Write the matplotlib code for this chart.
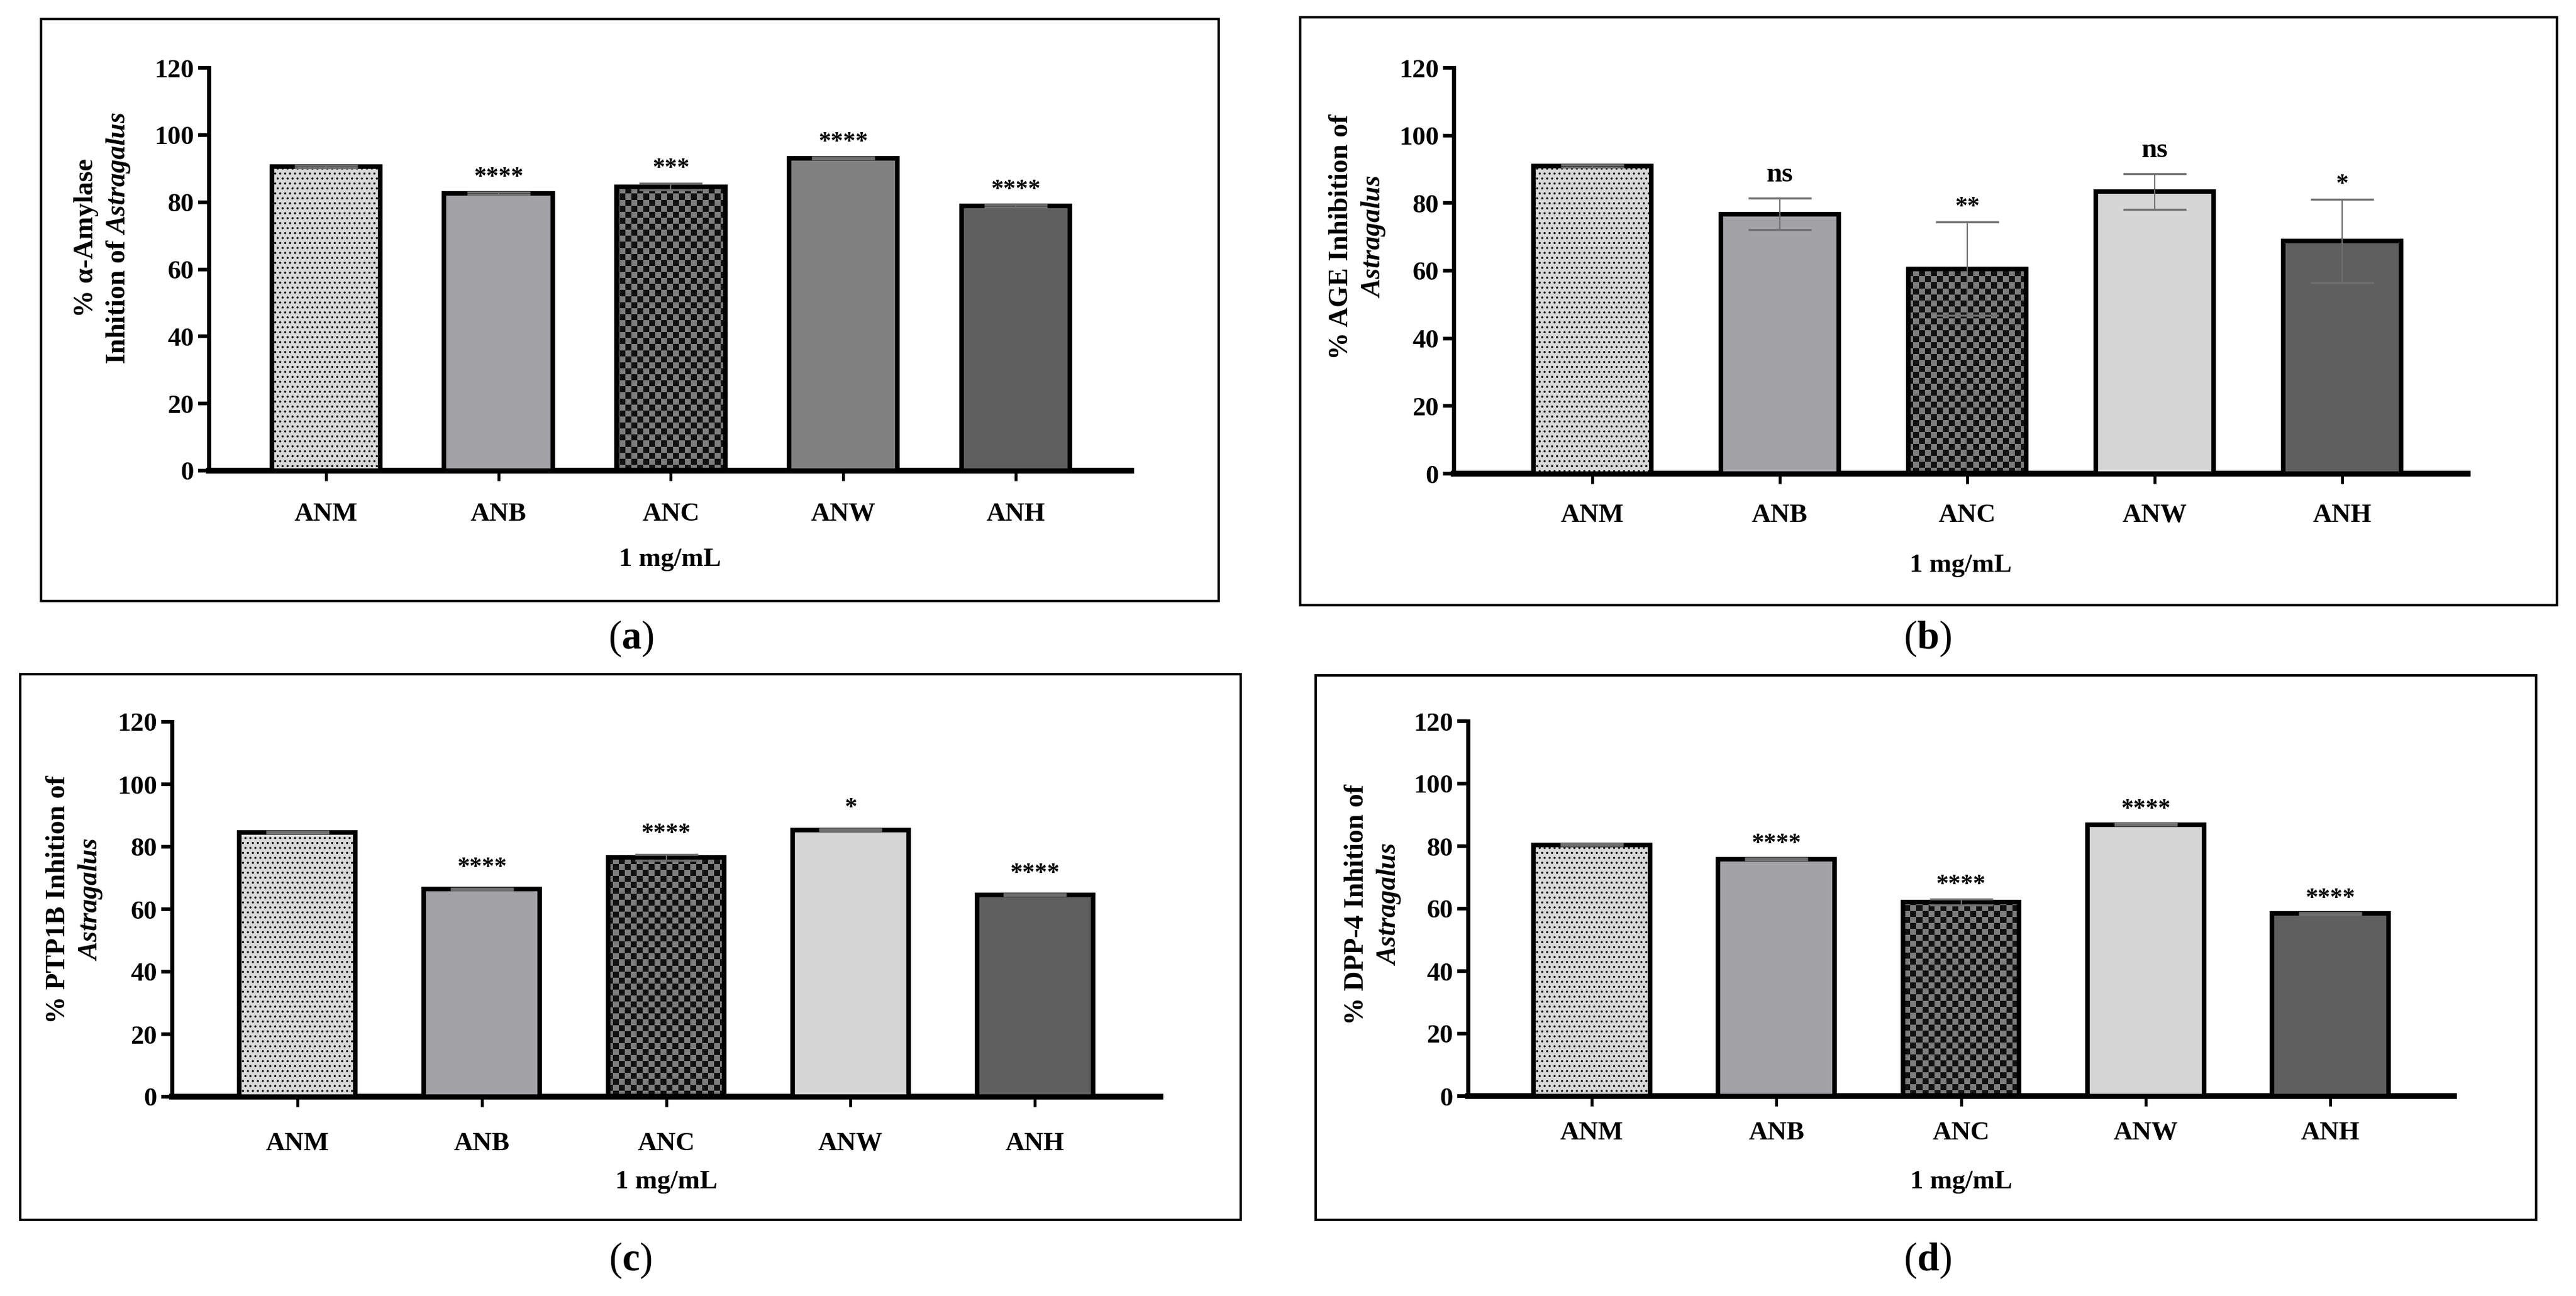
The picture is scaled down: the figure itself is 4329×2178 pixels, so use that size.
import matplotlib.pyplot as plt
import numpy as np
from matplotlib.colors import ListedColormap
from matplotlib.patches import Rectangle

plt.rcParams['font.family'] = ['Liberation Serif', 'DejaVu Serif']
plt.rcParams['font.weight'] = 'bold'
plt.rcParams['mathtext.fontset'] = 'custom'
plt.rcParams['mathtext.rm'] = 'Liberation Serif:bold'
plt.rcParams['mathtext.it'] = 'Liberation Serif:italic'
plt.rcParams['mathtext.bf'] = 'Liberation Serif:bold'
plt.rcParams['hatch.linewidth'] = 1.3

extracts = ['ANM', 'ANB', 'ANC', 'ANW', 'ANH']
y_ticks = [0, 20, 40, 60, 80, 100, 120]

# (a) alpha-amylase
amylase = [90.6, 82.6, 84.6, 93.1, 78.9]
amylase_err = [0.3, 0.3, 1.0, 0.3, 0.3]
amylase_sig = ['', '****', '***', '****', '****']

# (b) AGE
age = [91.0, 76.8, 60.6, 83.4, 68.8]
age_err = [0.3, 4.6, 13.8, 5.2, 12.3]
age_sig = ['', 'ns', '**', 'ns', '*']

# (c) PTP1B
ptp1b = [84.6, 66.4, 76.6, 85.4, 64.6]
ptp1b_err = [0.3, 0.3, 1.0, 0.3, 0.3]
ptp1b_sig = ['', '****', '****', '*', '****']

# (d) DPP-4
dpp4 = [80.4, 75.9, 62.1, 86.9, 58.4]
dpp4_err = [0.3, 0.3, 0.9, 0.3, 0.3]
dpp4_sig = ['', '****', '****', '****', '****']

W, H = 4329, 2178

# layout in pixels of the original figure
panels = [
    dict(vals=amylase, err=amylase_err, sig=amylase_sig, tag='a',
         ylabel='% α-Amylase\nInhition of $\\mathit{Astragalus}$',
         box=(69, 32, 2048, 1010), axes=(351, 114, 1901, 791), xlim=(-0.68, 4.67),
         ylab=(173, 400), tick_y=859, xlab_y=940, tag_xy=(1060, 1073),
         anw='#808080', gap=2.5),
    dict(vals=age, err=age_err, sig=age_sig, tag='b',
         ylabel='% AGE Inhibition of\n$\\mathit{Astragalus}$',
         box=(2185, 29, 4297, 1017), axes=(2443, 114, 4147, 796), xlim=(-0.74, 4.67),
         ylab=(2282, 398), tick_y=861, xlab_y=950, tag_xy=(3239, 1073),
         anw='#d6d6d6', gap=2.5),
    dict(vals=ptp1b, err=ptp1b_err, sig=ptp1b_sig, tag='c',
         ylabel='% PTP1B Inhition of\n$\\mathit{Astragalus}$',
         box=(34, 1133, 2085, 2050), axes=(289, 1213, 1950, 1843), xlim=(-0.68, 4.68),
         ylab=(126, 1512), tick_y=1917, xlab_y=1986, tag_xy=(1060, 2118),
         anw='#d6d6d6', gap=4.5),
    dict(vals=dpp4, err=dpp4_err, sig=dpp4_sig, tag='d',
         ylabel='% DPP-4 Inhition of\n$\\mathit{Astragalus}$',
         box=(2211, 1135, 4262, 2050), axes=(2467, 1212, 4124, 1842), xlim=(-0.67, 4.67),
         ylab=(2308, 1520), tick_y=1899, xlab_y=1986, tag_xy=(3239, 2118),
         anw='#d6d6d6', gap=2.5),
]

checker_cmap = ListedColormap(['#111111', '#7d7d7d'])

fig = plt.figure(figsize=(W / 100, H / 100), dpi=100)

for p in panels:
    x0, y0, x1, y1 = p['axes']
    ax = fig.add_axes([x0 / W, 1 - y1 / H, (x1 - x0) / W, (y1 - y0) / H])
    x = np.arange(len(extracts))
    colors = ['#d9d9d9', '#a3a2a7', 'none', p['anw'], '#5f5f5f']
    bars = ax.bar(x, p['vals'], width=0.63, color=colors, edgecolor='black',
                  linewidth=5.5, zorder=3)
    bars[0].set_hatch('..')

    # checkerboard fill for ANC
    nx, ny = int((x1 - x0) / 10), int((y1 - y0) / 10)
    board = np.indices((ny, nx)).sum(axis=0) % 2
    im = ax.imshow(board, cmap=checker_cmap, extent=(p['xlim'][0], p['xlim'][1], 0, 120),
                   aspect='auto', interpolation='nearest', zorder=2.5)
    im.set_clip_path(bars[2])

    ax.errorbar(x, p['vals'], yerr=p['err'], fmt='none', ecolor='#6f6f6f',
                elinewidth=1.6, capsize=38, capthick=2.5, zorder=4)

    for i, s in enumerate(p['sig']):
        if not s:
            continue
        top = p['vals'][i] + p['err'][i]
        if s == 'ns':
            ax.text(i, top + 5, s, ha='center', va='baseline', fontsize=34)
        else:
            ax.text(i, top + p['gap'], s, ha='center', va='baseline', fontsize=30)

    ax.set_xlim(*p['xlim'])
    ax.set_ylim(0, 120)
    ax.set_yticks(y_ticks)
    ax.set_xticks(x)
    ax.set_xticklabels(extracts)
    for side in ['top', 'right']:
        ax.spines[side].set_visible(False)
    ax.spines['left'].set_linewidth(5)
    ax.spines['bottom'].set_linewidth(7)

    pad_pt = (p['tick_y'] - y1 - 17 - 15) * 0.72
    ax.tick_params(axis='x', length=12, width=3.5, pad=pad_pt, labelsize=32)
    ax.tick_params(axis='y', length=13, width=4.5, pad=5, labelsize=32)

    ax.set_xlabel('1 mg/mL', fontsize=32, fontweight='bold')
    ax.xaxis.set_label_coords(0.5, -(p['xlab_y'] - y1) / (y1 - y0))
    ax.xaxis.label.set_va('center')

    fig.text(p['ylab'][0] / W, 1 - p['ylab'][1] / H, p['ylabel'], rotation=90,
             ha='center', va='center', multialignment='center', fontsize=33,
             linespacing=1.3)

    bx0, by0, bx1, by1 = p['box']
    fig.add_artist(Rectangle((bx0 / W, 1 - by1 / H), (bx1 - bx0) / W, (by1 - by0) / H,
                             transform=fig.transFigure, fill=False, lw=3, ec='black'))
    fig.text(p['tag_xy'][0] / W, 1 - p['tag_xy'][1] / H, '($\\mathbf{%s}$)' % p['tag'],
             ha='center', va='center', fontsize=48, fontweight='normal')

fig.savefig('out.png', dpi=100)
